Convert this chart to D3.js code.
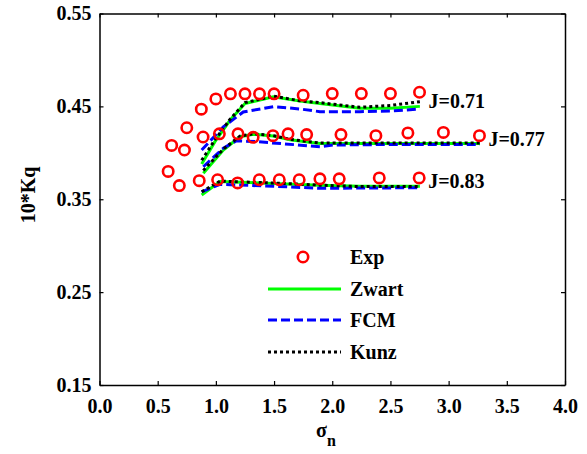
<!DOCTYPE html>
<html>
<head>
<meta charset="utf-8">
<script src="https://cdn.jsdelivr.net/npm/d3@7"></script>
<style>
  body { margin: 0; background: #fff; }
  text { font-family: "Liberation Serif", "Times New Roman", serif; font-weight: bold; }
</style>
</head>
<body>
<div id="vis"></div>
<script>
// experimental points, sigma_n and 10*Kq
const expSigma71 = [0.75, 0.875, 1.0, 1.125, 1.25, 1.375, 1.5, 1.75, 2.0, 2.25, 2.5, 2.75];
const expKq71 = [0.427, 0.447, 0.458, 0.4635, 0.4635, 0.4635, 0.4635, 0.462, 0.4638, 0.4638, 0.4638, 0.4652];
const expSigma77 = [0.62, 0.73, 0.89, 1.03, 1.19, 1.32, 1.49, 1.62, 1.78, 2.075, 2.375, 2.65, 2.955, 3.265];
const expKq77 = [0.408, 0.403, 0.417, 0.4204, 0.4204, 0.4167, 0.4185, 0.4204, 0.4196, 0.4196, 0.4185, 0.4214, 0.422, 0.4185];
const expSigma83 = [0.59, 0.686, 0.857, 1.015, 1.187, 1.373, 1.545, 1.716, 1.894, 2.06, 2.404, 2.747];
const expKq83 = [0.380, 0.3647, 0.370, 0.371, 0.3676, 0.371, 0.371, 0.371, 0.372, 0.372, 0.373, 0.373];

// model curves
const zwartSigma71 = [0.878, 0.992, 1.121, 1.25, 1.493, 1.723, 1.894, 2.238, 2.5, 2.753];
const zwartKq71 = [0.388, 0.412, 0.435, 0.453, 0.4604, 0.4558, 0.453, 0.448, 0.448, 0.450];
const kunzSigma71 = [0.878, 0.992, 1.121, 1.25, 1.493, 1.723, 1.894, 2.238, 2.5, 2.753];
const kunzKq71 = [0.392, 0.414, 0.436, 0.454, 0.461, 0.456, 0.454, 0.449, 0.451, 0.455];
const fcmSigma71 = [0.878, 1.064, 1.235, 1.493, 1.723, 1.894, 2.238, 2.5, 2.753];
const fcmKq71 = [0.403, 0.428, 0.444, 0.4497, 0.4472, 0.4443, 0.4443, 0.445, 0.4472];

const zwartSigma77 = [0.892, 1.064, 1.207, 1.321, 1.493, 1.637, 1.894, 2.238, 2.753, 3.269];
const zwartKq77 = [0.378, 0.403, 0.4173, 0.420, 0.418, 0.414, 0.410, 0.410, 0.410, 0.410];
const kunzSigma77 = [0.892, 1.064, 1.207, 1.321, 1.493, 1.637, 1.894, 2.238, 2.753, 3.269];
const kunzKq77 = [0.381, 0.404, 0.418, 0.4205, 0.4185, 0.4145, 0.4105, 0.4105, 0.4105, 0.4105];
const fcmSigma77 = [0.892, 1.064, 1.179, 1.35, 1.894, 2.006, 2.5, 3.269];
const fcmKq77 = [0.385, 0.405, 0.413, 0.412, 0.4066, 0.4084, 0.409, 0.409];

const zwartSigma83 = [0.878, 1.035, 1.493, 1.894, 2.238, 2.753];
const zwartKq83 = [0.3546, 0.369, 0.367, 0.365, 0.364, 0.364];
const kunzSigma83 = [0.878, 1.035, 1.493, 1.894, 2.238, 2.753];
const kunzKq83 = [0.358, 0.3695, 0.3675, 0.3652, 0.3636, 0.3636];
const fcmSigma83 = [0.878, 1.035, 1.493, 1.894, 2.753];
const fcmKq83 = [0.358, 0.366, 0.364, 0.3618, 0.3624];

const jLabels = ['J=0.71', 'J=0.77', 'J=0.83'];
const legendNames = ['Exp', 'Zwart', 'FCM', 'Kunz'];
const xTicks = [0, 0.5, 1, 1.5, 2, 2.5, 3, 3.5, 4];
const yTicks = [0.15, 0.25, 0.35, 0.45, 0.55];

const W = 587, H = 454;
const plotL = 99.5, plotR = 565, plotT = 13.5, plotB = 385;

const zip = (xs, ys) => xs.map((s, i) => [s, ys[i]]);

const svg = d3.select('#vis').append('svg')
  .attr('width', W)
  .attr('height', H);

const x = d3.scaleLinear().domain([0, 4]).range([plotL, plotR]);
const y = d3.scaleLinear().domain([0.15, 0.55]).range([plotB, plotT]);

// axes, ticks pointing inwards on all four sides
function styleAxis(g) {
  g.selectAll('path').attr('stroke', '#000').attr('stroke-width', 1.5);
  g.selectAll('line').attr('stroke', '#000').attr('stroke-width', 1.2);
  g.selectAll('text').attr('fill', '#000').style('font-size', '20px')
    .style('font-family', '"Liberation Serif", serif').style('font-weight', 'bold');
}

svg.append('g')
  .attr('transform', `translate(0,${plotB})`)
  .call(d3.axisBottom(x).tickValues(xTicks).tickFormat(d3.format('.1f'))
    .tickSizeInner(-4).tickSizeOuter(0).tickPadding(14))
  .call(styleAxis);

svg.append('g')
  .attr('transform', `translate(0,${plotT})`)
  .call(d3.axisTop(x).tickValues(xTicks).tickFormat('')
    .tickSizeInner(-4).tickSizeOuter(0))
  .call(styleAxis);

svg.append('g')
  .attr('transform', `translate(${plotL},0)`)
  .call(d3.axisLeft(y).tickValues(yTicks).tickFormat(d3.format('.2f'))
    .tickSizeInner(-4).tickSizeOuter(0).tickPadding(8))
  .call(styleAxis);

svg.append('g')
  .attr('transform', `translate(${plotR},0)`)
  .call(d3.axisRight(y).tickValues(yTicks).tickFormat('')
    .tickSizeInner(-4).tickSizeOuter(0))
  .call(styleAxis);

const line = d3.line().x(d => x(d[0])).y(d => y(d[1]));

const styles = {
  Zwart: { stroke: '#00ff00', dash: null },
  FCM: { stroke: '#0000ff', dash: '9,4' },
  Kunz: { stroke: '#000000', dash: '3,3' }
};

const curves = [
  ['Zwart', zip(zwartSigma71, zwartKq71)],
  ['Zwart', zip(zwartSigma77, zwartKq77)],
  ['Zwart', zip(zwartSigma83, zwartKq83)],
  ['FCM', zip(fcmSigma71, fcmKq71)],
  ['FCM', zip(fcmSigma77, fcmKq77)],
  ['FCM', zip(fcmSigma83, fcmKq83)],
  ['Kunz', zip(kunzSigma71, kunzKq71)],
  ['Kunz', zip(kunzSigma77, kunzKq77)],
  ['Kunz', zip(kunzSigma83, kunzKq83)]
];

svg.append('g').selectAll('path')
  .data(curves)
  .enter()
  .append('path')
  .attr('d', d => line(d[1]))
  .attr('fill', 'none')
  .attr('stroke', d => styles[d[0]].stroke)
  .attr('stroke-width', 3)
  .attr('stroke-dasharray', d => styles[d[0]].dash);

const expPts = [].concat(zip(expSigma71, expKq71), zip(expSigma77, expKq77), zip(expSigma83, expKq83));

svg.append('g').selectAll('circle')
  .data(expPts)
  .enter()
  .append('circle')
  .attr('cx', d => x(d[0]))
  .attr('cy', d => y(d[1]))
  .attr('r', 5.2)
  .attr('fill', 'none')
  .attr('stroke', '#ff0000')
  .attr('stroke-width', 2.6);

// J labels next to the end of each experimental series
const lastPts = [
  [expSigma71[expSigma71.length - 1], zwartKq71[zwartKq71.length - 1]],
  [expSigma77[expSigma77.length - 1], zwartKq77[zwartKq77.length - 1]],
  [expSigma83[expSigma83.length - 1], zwartKq83[zwartKq83.length - 1]]
];
svg.append('g').selectAll('text')
  .data(jLabels)
  .enter()
  .append('text')
  .attr('x', (d, i) => x(lastPts[i][0]) + 9)
  .attr('y', (d, i) => y(lastPts[i][1]) + 2)
  .style('font-size', '20px')
  .text(d => d);

// legend
const legX = 268, legY = [257, 289, 320, 352];
const leg = svg.append('g');
leg.append('circle')
  .attr('cx', legX + 35).attr('cy', legY[0])
  .attr('r', 5.2).attr('fill', 'none')
  .attr('stroke', '#ff0000').attr('stroke-width', 2.6);
['Zwart', 'FCM', 'Kunz'].forEach((k, i) => {
  leg.append('line')
    .attr('x1', legX).attr('x2', legX + 73)
    .attr('y1', legY[i + 1]).attr('y2', legY[i + 1])
    .attr('stroke', styles[k].stroke)
    .attr('stroke-width', 3)
    .attr('stroke-dasharray', styles[k].dash);
});
leg.selectAll('text')
  .data(legendNames)
  .enter()
  .append('text')
  .attr('x', 350)
  .attr('y', (d, i) => legY[i] + 7)
  .style('font-size', '20px')
  .text(d => d);

// axis titles
svg.append('text')
  .attr('transform', 'translate(35,195) rotate(-90)')
  .attr('text-anchor', 'middle')
  .style('font-size', '20px')
  .text('10*Kq');

const xt = svg.append('text')
  .attr('x', 316)
  .attr('y', 437)
  .style('font-size', '20px');
xt.append('tspan').text('σ');
xt.append('tspan').attr('dy', 9).style('font-size', '16px').text('n');
</script>
</body>
</html>
